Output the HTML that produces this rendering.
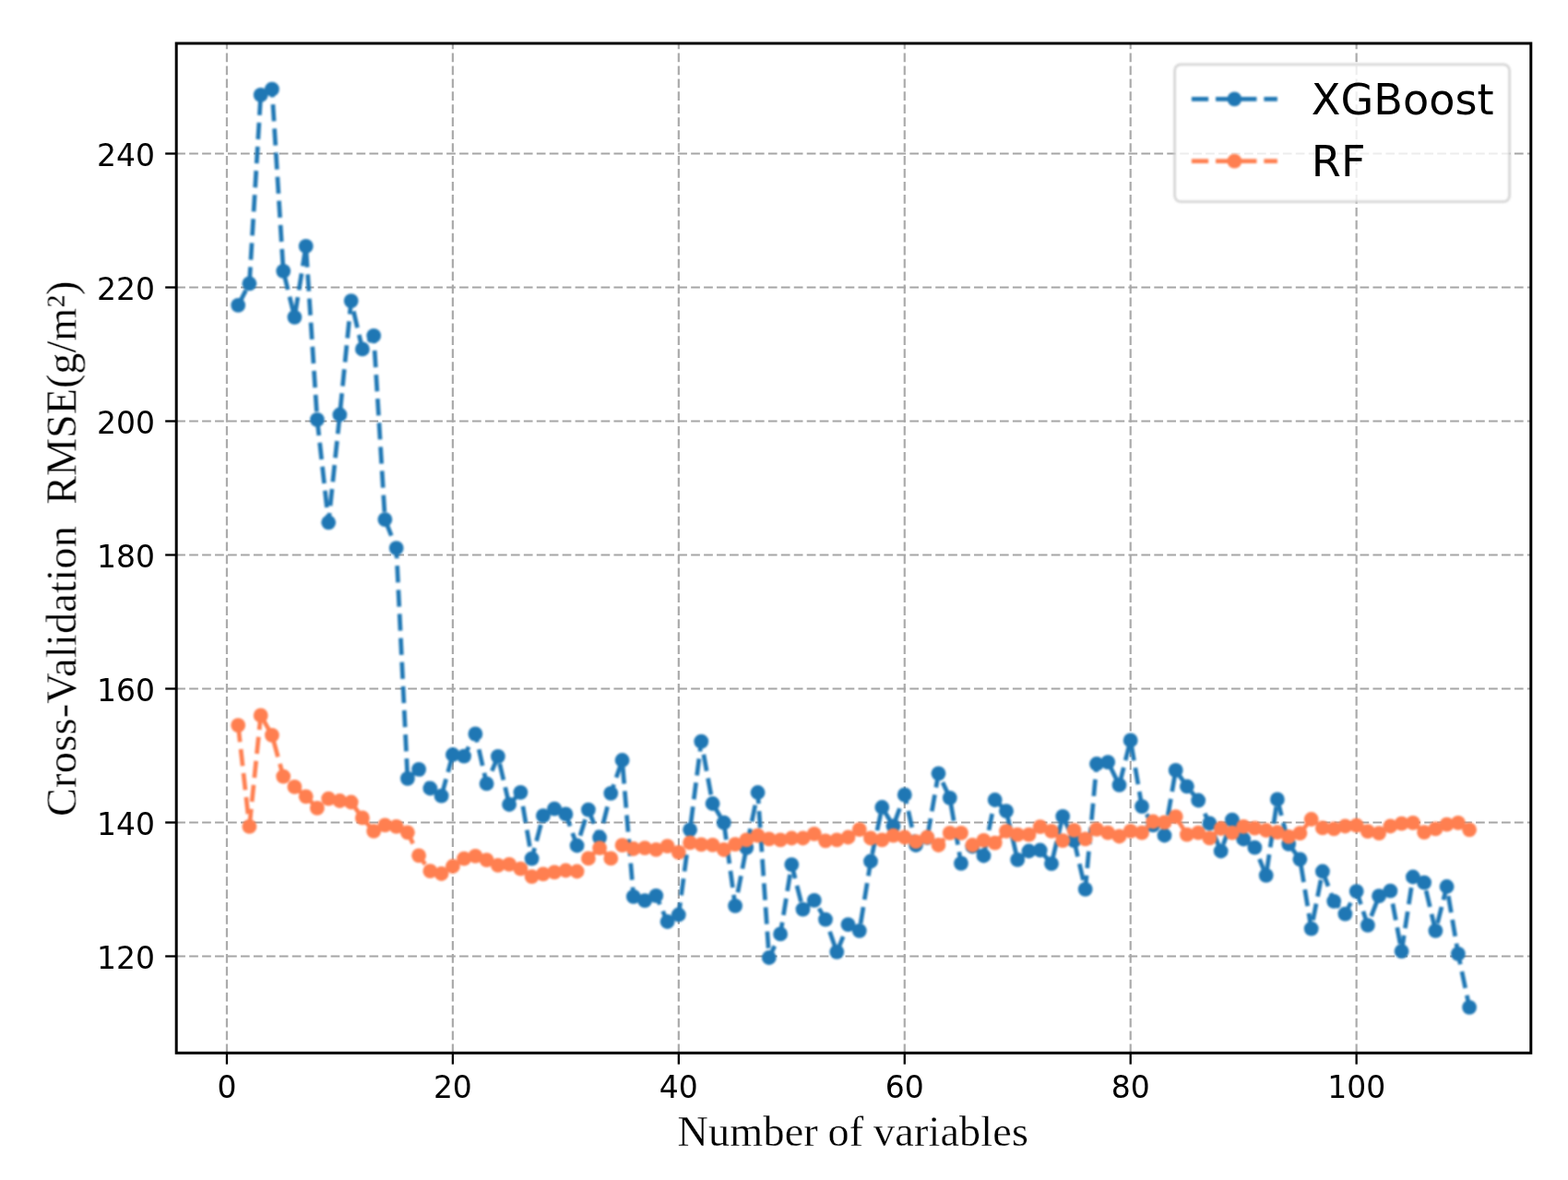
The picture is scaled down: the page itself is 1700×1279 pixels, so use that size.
<!DOCTYPE html>
<html lang="en">
<head>
<meta charset="utf-8">
<title>Cross-Validation RMSE vs Number of variables</title>
<style>
html,body{margin:0;padding:0;background:#fff;}
body{width:1700px;height:1279px;overflow:hidden;}
svg{display:block;}
.tick{font-family:"DejaVu Sans","Liberation Sans",sans-serif;font-size:33px;fill:#000;}
.leg{font-family:"DejaVu Sans","Liberation Sans",sans-serif;font-size:46.2px;fill:#000;}
.lab{font-family:"Liberation Serif","Times New Roman",serif;font-size:46.2px;fill:#000;stroke:#fff;stroke-width:0.3px;}
</style>
</head>
<body>
<svg width="1700" height="1279" viewBox="0 0 1700 1279">
<defs><filter id="fg" x="0" y="0" width="1700" height="1279" filterUnits="userSpaceOnUse" color-interpolation-filters="sRGB"><feGaussianBlur stdDeviation="0.6"/></filter><filter id="fd" x="0" y="0" width="1700" height="1279" filterUnits="userSpaceOnUse" color-interpolation-filters="sRGB"><feGaussianBlur stdDeviation="1"/></filter><filter id="fs" x="0" y="0" width="1700" height="1279" filterUnits="userSpaceOnUse" color-interpolation-filters="sRGB"><feGaussianBlur stdDeviation="0.6"/></filter><filter id="ft" x="0" y="0" width="1700" height="1279" filterUnits="userSpaceOnUse" color-interpolation-filters="sRGB"><feGaussianBlur stdDeviation="0.5"/></filter></defs>
<rect x="0" y="0" width="1700" height="1279" fill="#ffffff"/>
<g filter="url(#fg)" stroke="#a6a6a6" stroke-width="2.200" stroke-dasharray="9.738 4.211" fill="none">
<line stroke="#ababab" x1="245.95" y1="1141.30" x2="245.95" y2="47.00"/>
<line stroke="#ababab" x1="490.89" y1="1141.30" x2="490.89" y2="47.00"/>
<line stroke="#ababab" x1="735.83" y1="1141.30" x2="735.83" y2="47.00"/>
<line stroke="#ababab" x1="980.77" y1="1141.30" x2="980.77" y2="47.00"/>
<line stroke="#ababab" x1="1225.71" y1="1141.30" x2="1225.71" y2="47.00"/>
<line stroke="#ababab" x1="1470.65" y1="1141.30" x2="1470.65" y2="47.00"/>
<line x1="191.20" y1="1036.50" x2="1659.80" y2="1036.50"/>
<line x1="191.20" y1="891.50" x2="1659.80" y2="891.50"/>
<line x1="191.20" y1="746.50" x2="1659.80" y2="746.50"/>
<line x1="191.20" y1="601.50" x2="1659.80" y2="601.50"/>
<line x1="191.20" y1="456.50" x2="1659.80" y2="456.50"/>
<line x1="191.20" y1="311.50" x2="1659.80" y2="311.50"/>
<line x1="191.20" y1="166.50" x2="1659.80" y2="166.50"/>
</g>
<g filter="url(#fd)">
<g fill="none" stroke="#1f77b4" stroke-width="4.700" stroke-dasharray="18.26 7.90" stroke-linejoin="round">
<polyline stroke-dashoffset="0.00" points="258.2,330.8 270.4,307.3"/>
<polyline stroke-dashoffset="0.39" points="270.4,307.3 282.7,102.9 294.9,96.7"/>
<polyline stroke-dashoffset="9.60" points="294.9,96.7 307.2,293.8"/>
<polyline stroke-dashoffset="23.65" points="307.2,293.8 319.4,343.8"/>
<polyline stroke-dashoffset="22.47" points="319.4,343.8 331.7,266.9"/>
<polyline stroke-dashoffset="21.71" points="331.7,266.9 343.9,454.8"/>
<polyline stroke-dashoffset="0.98" points="343.9,454.8 356.2,566.3"/>
<polyline stroke-dashoffset="7.96" points="356.2,566.3 368.4,449.5"/>
<polyline stroke-dashoffset="21.16" points="368.4,449.5 380.7,326.1"/>
<polyline stroke-dashoffset="14.57" points="380.7,326.1 392.9,378.4 405.2,363.8"/>
<polyline stroke-dashoffset="10.01" points="405.2,363.8 417.4,563.1"/>
<polyline stroke-dashoffset="25.68" points="417.4,563.1 429.7,594.1"/>
<polyline stroke-dashoffset="7.09" points="429.7,594.1 441.9,843.8 454.1,833.9"/>
<polyline stroke-dashoffset="10.34" points="454.1,833.9 466.4,854.5 478.6,862.7"/>
<polyline stroke-dashoffset="25.45" points="478.6,862.7 490.9,818.0 503.1,819.6"/>
<polyline stroke-dashoffset="6.97" points="503.1,819.6 515.4,795.4"/>
<polyline stroke-dashoffset="8.88" points="515.4,795.4 527.6,849.4"/>
<polyline stroke-dashoffset="11.17" points="527.6,849.4 539.9,819.8"/>
<polyline stroke-dashoffset="18.06" points="539.9,819.8 552.1,872.0 564.4,858.8"/>
<polyline stroke-dashoffset="10.93" points="564.4,858.8 576.6,930.6"/>
<polyline stroke-dashoffset="6.49" points="576.6,930.6 588.9,884.2 601.1,876.7 613.4,882.4"/>
<polyline stroke-dashoffset="4.36" points="613.4,882.4 625.6,916.5"/>
<polyline stroke-dashoffset="14.87" points="625.6,916.5 637.9,877.6"/>
<polyline stroke-dashoffset="2.14" points="637.9,877.6 650.1,907.8"/>
<polyline stroke-dashoffset="9.97" points="650.1,907.8 662.3,859.8"/>
<polyline stroke-dashoffset="8.05" points="662.3,859.8 674.6,824.0"/>
<polyline stroke-dashoffset="18.83" points="674.6,824.0 686.8,971.8 699.1,976.2 711.3,970.8"/>
<polyline stroke-dashoffset="7.82" points="711.3,970.8 723.6,999.0 735.8,991.5"/>
<polyline stroke-dashoffset="4.88" points="735.8,991.5 748.1,899.3"/>
<polyline stroke-dashoffset="19.17" points="748.1,899.3 760.3,803.7"/>
<polyline stroke-dashoffset="11.87" points="760.3,803.7 772.6,871.0 784.8,891.7"/>
<polyline stroke-dashoffset="25.77" points="784.8,891.7 797.1,981.8"/>
<polyline stroke-dashoffset="11.38" points="797.1,981.8 809.3,918.8"/>
<polyline stroke-dashoffset="23.46" points="809.3,918.8 821.6,859.0"/>
<polyline stroke-dashoffset="6.05" points="821.6,859.0 833.8,1038.0"/>
<polyline stroke-dashoffset="4.25" points="833.8,1038.0 846.1,1012.4"/>
<polyline stroke-dashoffset="5.30" points="846.1,1012.4 858.3,937.1"/>
<polyline stroke-dashoffset="2.71" points="858.3,937.1 870.5,985.6 882.8,975.9 895.0,996.6"/>
<polyline stroke-dashoffset="12.25" points="895.0,996.6 907.3,1031.8"/>
<polyline stroke-dashoffset="0.24" points="907.3,1031.8 919.5,1002.2 931.8,1008.8"/>
<polyline stroke-dashoffset="18.29" points="931.8,1008.8 944.0,933.5"/>
<polyline stroke-dashoffset="18.22" points="944.0,933.5 956.3,875.0 968.5,895.3"/>
<polyline stroke-dashoffset="24.12" points="968.5,895.3 980.8,861.4"/>
<polyline stroke-dashoffset="8.06" points="980.8,861.4 993.0,916.0 1005.3,908.0"/>
<polyline stroke-dashoffset="23.18" points="1005.3,908.0 1017.5,838.3 1029.8,864.8"/>
<polyline stroke-dashoffset="19.11" points="1029.8,864.8 1042.0,935.8"/>
<polyline stroke-dashoffset="10.30" points="1042.0,935.8 1054.3,917.5 1066.5,927.5"/>
<polyline stroke-dashoffset="24.12" points="1066.5,927.5 1078.7,867.0 1091.0,879.2"/>
<polyline stroke-dashoffset="23.72" points="1091.0,879.2 1103.2,931.9 1115.5,922.5 1127.7,921.5 1140.0,936.2"/>
<polyline stroke-dashoffset="19.58" points="1140.0,936.2 1152.2,884.8 1164.5,911.2"/>
<polyline stroke-dashoffset="0.44" points="1164.5,911.2 1176.7,963.9"/>
<polyline stroke-dashoffset="3.18" points="1176.7,963.9 1189.0,828.0 1201.2,826.1 1213.5,850.9"/>
<polyline stroke-dashoffset="24.74" points="1213.5,850.9 1225.7,802.4"/>
<polyline stroke-dashoffset="22.07" points="1225.7,802.4 1238.0,874.1 1250.2,894.3 1262.5,905.5"/>
<polyline stroke-dashoffset="4.11" points="1262.5,905.5 1274.7,834.9 1286.9,852.3 1299.2,867.5"/>
<polyline stroke-dashoffset="10.39" points="1299.2,867.5 1311.4,892.4 1323.7,922.5 1335.9,888.6 1348.2,909.5 1360.4,918.7"/>
<polyline stroke-dashoffset="12.71" points="1360.4,918.7 1372.7,948.8"/>
<polyline stroke-dashoffset="21.57" points="1372.7,948.8 1384.9,866.4"/>
<polyline stroke-dashoffset="0.13" points="1384.9,866.4 1397.2,914.8 1409.4,931.3"/>
<polyline stroke-dashoffset="19.18" points="1409.4,931.3 1421.7,1006.6"/>
<polyline stroke-dashoffset="16.77" points="1421.7,1006.6 1433.9,944.5"/>
<polyline stroke-dashoffset="0.93" points="1433.9,944.5 1446.2,976.8 1458.4,990.6"/>
<polyline stroke-dashoffset="4.66" points="1458.4,990.6 1470.7,966.1"/>
<polyline stroke-dashoffset="3.23" points="1470.7,966.1 1482.9,1002.8 1495.1,971.2 1507.4,965.7"/>
<polyline stroke-dashoffset="12.14" points="1507.4,965.7 1519.6,1031.1"/>
<polyline stroke-dashoffset="0.82" points="1519.6,1031.1 1531.9,950.5 1544.1,956.7"/>
<polyline stroke-dashoffset="17.34" points="1544.1,956.7 1556.4,1008.8"/>
<polyline stroke-dashoffset="17.81" points="1556.4,1008.8 1568.6,961.0"/>
<polyline stroke-dashoffset="15.91" points="1568.6,961.0 1580.9,1033.9"/>
<polyline stroke-dashoffset="6.56" points="1580.9,1033.9 1593.1,1091.8"/>
</g>
<g fill="#1f77b4">
<circle cx="258.2" cy="330.8" r="7.9"/>
<circle cx="270.4" cy="307.3" r="7.9"/>
<circle cx="282.7" cy="102.9" r="7.9"/>
<circle cx="294.9" cy="96.7" r="7.9"/>
<circle cx="307.2" cy="293.8" r="7.9"/>
<circle cx="319.4" cy="343.8" r="7.9"/>
<circle cx="331.7" cy="266.9" r="7.9"/>
<circle cx="343.9" cy="454.8" r="7.9"/>
<circle cx="356.2" cy="566.3" r="7.9"/>
<circle cx="368.4" cy="449.5" r="7.9"/>
<circle cx="380.7" cy="326.1" r="7.9"/>
<circle cx="392.9" cy="378.4" r="7.9"/>
<circle cx="405.2" cy="363.8" r="7.9"/>
<circle cx="417.4" cy="563.1" r="7.9"/>
<circle cx="429.7" cy="594.1" r="7.9"/>
<circle cx="441.9" cy="843.8" r="7.9"/>
<circle cx="454.1" cy="833.9" r="7.9"/>
<circle cx="466.4" cy="854.5" r="7.9"/>
<circle cx="478.6" cy="862.7" r="7.9"/>
<circle cx="490.9" cy="818.0" r="7.9"/>
<circle cx="503.1" cy="819.6" r="7.9"/>
<circle cx="515.4" cy="795.4" r="7.9"/>
<circle cx="527.6" cy="849.4" r="7.9"/>
<circle cx="539.9" cy="819.8" r="7.9"/>
<circle cx="552.1" cy="872.0" r="7.9"/>
<circle cx="564.4" cy="858.8" r="7.9"/>
<circle cx="576.6" cy="930.6" r="7.9"/>
<circle cx="588.9" cy="884.2" r="7.9"/>
<circle cx="601.1" cy="876.7" r="7.9"/>
<circle cx="613.4" cy="882.4" r="7.9"/>
<circle cx="625.6" cy="916.5" r="7.9"/>
<circle cx="637.9" cy="877.6" r="7.9"/>
<circle cx="650.1" cy="907.8" r="7.9"/>
<circle cx="662.3" cy="859.8" r="7.9"/>
<circle cx="674.6" cy="824.0" r="7.9"/>
<circle cx="686.8" cy="971.8" r="7.9"/>
<circle cx="699.1" cy="976.2" r="7.9"/>
<circle cx="711.3" cy="970.8" r="7.9"/>
<circle cx="723.6" cy="999.0" r="7.9"/>
<circle cx="735.8" cy="991.5" r="7.9"/>
<circle cx="748.1" cy="899.3" r="7.9"/>
<circle cx="760.3" cy="803.7" r="7.9"/>
<circle cx="772.6" cy="871.0" r="7.9"/>
<circle cx="784.8" cy="891.7" r="7.9"/>
<circle cx="797.1" cy="981.8" r="7.9"/>
<circle cx="809.3" cy="918.8" r="7.9"/>
<circle cx="821.6" cy="859.0" r="7.9"/>
<circle cx="833.8" cy="1038.0" r="7.9"/>
<circle cx="846.1" cy="1012.4" r="7.9"/>
<circle cx="858.3" cy="937.1" r="7.9"/>
<circle cx="870.5" cy="985.6" r="7.9"/>
<circle cx="882.8" cy="975.9" r="7.9"/>
<circle cx="895.0" cy="996.6" r="7.9"/>
<circle cx="907.3" cy="1031.8" r="7.9"/>
<circle cx="919.5" cy="1002.2" r="7.9"/>
<circle cx="931.8" cy="1008.8" r="7.9"/>
<circle cx="944.0" cy="933.5" r="7.9"/>
<circle cx="956.3" cy="875.0" r="7.9"/>
<circle cx="968.5" cy="895.3" r="7.9"/>
<circle cx="980.8" cy="861.4" r="7.9"/>
<circle cx="993.0" cy="916.0" r="7.9"/>
<circle cx="1005.3" cy="908.0" r="7.9"/>
<circle cx="1017.5" cy="838.3" r="7.9"/>
<circle cx="1029.8" cy="864.8" r="7.9"/>
<circle cx="1042.0" cy="935.8" r="7.9"/>
<circle cx="1054.3" cy="917.5" r="7.9"/>
<circle cx="1066.5" cy="927.5" r="7.9"/>
<circle cx="1078.7" cy="867.0" r="7.9"/>
<circle cx="1091.0" cy="879.2" r="7.9"/>
<circle cx="1103.2" cy="931.9" r="7.9"/>
<circle cx="1115.5" cy="922.5" r="7.9"/>
<circle cx="1127.7" cy="921.5" r="7.9"/>
<circle cx="1140.0" cy="936.2" r="7.9"/>
<circle cx="1152.2" cy="884.8" r="7.9"/>
<circle cx="1164.5" cy="911.2" r="7.9"/>
<circle cx="1176.7" cy="963.9" r="7.9"/>
<circle cx="1189.0" cy="828.0" r="7.9"/>
<circle cx="1201.2" cy="826.1" r="7.9"/>
<circle cx="1213.5" cy="850.9" r="7.9"/>
<circle cx="1225.7" cy="802.4" r="7.9"/>
<circle cx="1238.0" cy="874.1" r="7.9"/>
<circle cx="1250.2" cy="894.3" r="7.9"/>
<circle cx="1262.5" cy="905.5" r="7.9"/>
<circle cx="1274.7" cy="834.9" r="7.9"/>
<circle cx="1286.9" cy="852.3" r="7.9"/>
<circle cx="1299.2" cy="867.5" r="7.9"/>
<circle cx="1311.4" cy="892.4" r="7.9"/>
<circle cx="1323.7" cy="922.5" r="7.9"/>
<circle cx="1335.9" cy="888.6" r="7.9"/>
<circle cx="1348.2" cy="909.5" r="7.9"/>
<circle cx="1360.4" cy="918.7" r="7.9"/>
<circle cx="1372.7" cy="948.8" r="7.9"/>
<circle cx="1384.9" cy="866.4" r="7.9"/>
<circle cx="1397.2" cy="914.8" r="7.9"/>
<circle cx="1409.4" cy="931.3" r="7.9"/>
<circle cx="1421.7" cy="1006.6" r="7.9"/>
<circle cx="1433.9" cy="944.5" r="7.9"/>
<circle cx="1446.2" cy="976.8" r="7.9"/>
<circle cx="1458.4" cy="990.6" r="7.9"/>
<circle cx="1470.7" cy="966.1" r="7.9"/>
<circle cx="1482.9" cy="1002.8" r="7.9"/>
<circle cx="1495.1" cy="971.2" r="7.9"/>
<circle cx="1507.4" cy="965.7" r="7.9"/>
<circle cx="1519.6" cy="1031.1" r="7.9"/>
<circle cx="1531.9" cy="950.5" r="7.9"/>
<circle cx="1544.1" cy="956.7" r="7.9"/>
<circle cx="1556.4" cy="1008.8" r="7.9"/>
<circle cx="1568.6" cy="961.0" r="7.9"/>
<circle cx="1580.9" cy="1033.9" r="7.9"/>
<circle cx="1593.1" cy="1091.8" r="7.9"/>
</g>
<g fill="none" stroke="#ff7f50" stroke-width="4.700" stroke-dasharray="18.26 7.90" stroke-linejoin="round">
<polyline stroke-dashoffset="0.00" points="258.2,786.1 270.4,895.9"/>
<polyline stroke-dashoffset="25.29" points="270.4,895.9 282.7,775.4"/>
<polyline stroke-dashoffset="0.09" points="282.7,775.4 294.9,796.8"/>
<polyline stroke-dashoffset="20.06" points="294.9,796.8 307.2,841.6 319.4,852.9 331.7,863.3 343.9,875.9 356.2,865.7 368.4,868.0 380.7,869.5 392.9,886.4 405.2,900.9 417.4,894.4 429.7,895.9 441.9,902.3"/>
<polyline stroke-dashoffset="4.84" points="441.9,902.3 454.1,927.3 466.4,944.2 478.6,947.0 490.9,939.0 503.1,930.7 515.4,927.8 527.6,932.2 539.9,937.9 552.1,936.9 564.4,941.6 576.6,950.1 588.9,947.3 601.1,945.4 613.4,943.5 625.6,944.5"/>
<polyline stroke-dashoffset="12.94" points="625.6,944.5 637.9,930.4 650.1,919.1 662.3,930.4"/>
<polyline stroke-dashoffset="12.83" points="662.3,930.4 674.6,916.2 686.8,920.0 699.1,919.1 711.3,920.9 723.6,917.2 735.8,923.8 748.1,913.4 760.3,915.3 772.6,915.8 784.8,921.0 797.1,915.2 809.3,910.4 821.6,905.6 833.8,909.4 846.1,910.4 858.3,908.5 870.5,908.5 882.8,903.8 895.0,911.3 907.3,910.4 919.5,907.5 931.8,899.1 944.0,908.5 956.3,910.4 968.5,905.6 980.8,907.5 993.0,912.2 1005.3,907.5 1017.5,916.0 1029.8,902.8 1042.0,902.8 1054.3,916.0 1066.5,910.8 1078.7,913.6 1091.0,900.8 1103.2,904.6 1115.5,904.6 1127.7,896.1 1140.0,900.8 1152.2,911.2 1164.5,899.9 1176.7,909.3 1189.0,898.9 1201.2,902.7 1213.5,906.5 1225.7,900.8 1238.0,902.7 1250.2,890.5 1262.5,891.4 1274.7,885.2 1286.9,904.6 1299.2,902.7 1311.4,908.4 1323.7,898.0 1335.9,902.7 1348.2,895.8 1360.4,897.7 1372.7,900.0 1384.9,902.1 1397.2,906.8 1409.4,903.1 1421.7,888.0 1433.9,897.4 1446.2,898.4 1458.4,895.5 1470.7,894.6 1482.9,901.2 1495.1,903.1 1507.4,895.5 1519.6,892.7 1531.9,891.8 1544.1,902.1 1556.4,898.4 1568.6,893.6 1580.9,891.8 1593.1,899.3"/>
</g>
<g fill="#ff7f50">
<circle cx="258.2" cy="786.1" r="7.9"/>
<circle cx="270.4" cy="895.9" r="7.9"/>
<circle cx="282.7" cy="775.4" r="7.9"/>
<circle cx="294.9" cy="796.8" r="7.9"/>
<circle cx="307.2" cy="841.6" r="7.9"/>
<circle cx="319.4" cy="852.9" r="7.9"/>
<circle cx="331.7" cy="863.3" r="7.9"/>
<circle cx="343.9" cy="875.9" r="7.9"/>
<circle cx="356.2" cy="865.7" r="7.9"/>
<circle cx="368.4" cy="868.0" r="7.9"/>
<circle cx="380.7" cy="869.5" r="7.9"/>
<circle cx="392.9" cy="886.4" r="7.9"/>
<circle cx="405.2" cy="900.9" r="7.9"/>
<circle cx="417.4" cy="894.4" r="7.9"/>
<circle cx="429.7" cy="895.9" r="7.9"/>
<circle cx="441.9" cy="902.3" r="7.9"/>
<circle cx="454.1" cy="927.3" r="7.9"/>
<circle cx="466.4" cy="944.2" r="7.9"/>
<circle cx="478.6" cy="947.0" r="7.9"/>
<circle cx="490.9" cy="939.0" r="7.9"/>
<circle cx="503.1" cy="930.7" r="7.9"/>
<circle cx="515.4" cy="927.8" r="7.9"/>
<circle cx="527.6" cy="932.2" r="7.9"/>
<circle cx="539.9" cy="937.9" r="7.9"/>
<circle cx="552.1" cy="936.9" r="7.9"/>
<circle cx="564.4" cy="941.6" r="7.9"/>
<circle cx="576.6" cy="950.1" r="7.9"/>
<circle cx="588.9" cy="947.3" r="7.9"/>
<circle cx="601.1" cy="945.4" r="7.9"/>
<circle cx="613.4" cy="943.5" r="7.9"/>
<circle cx="625.6" cy="944.5" r="7.9"/>
<circle cx="637.9" cy="930.4" r="7.9"/>
<circle cx="650.1" cy="919.1" r="7.9"/>
<circle cx="662.3" cy="930.4" r="7.9"/>
<circle cx="674.6" cy="916.2" r="7.9"/>
<circle cx="686.8" cy="920.0" r="7.9"/>
<circle cx="699.1" cy="919.1" r="7.9"/>
<circle cx="711.3" cy="920.9" r="7.9"/>
<circle cx="723.6" cy="917.2" r="7.9"/>
<circle cx="735.8" cy="923.8" r="7.9"/>
<circle cx="748.1" cy="913.4" r="7.9"/>
<circle cx="760.3" cy="915.3" r="7.9"/>
<circle cx="772.6" cy="915.8" r="7.9"/>
<circle cx="784.8" cy="921.0" r="7.9"/>
<circle cx="797.1" cy="915.2" r="7.9"/>
<circle cx="809.3" cy="910.4" r="7.9"/>
<circle cx="821.6" cy="905.6" r="7.9"/>
<circle cx="833.8" cy="909.4" r="7.9"/>
<circle cx="846.1" cy="910.4" r="7.9"/>
<circle cx="858.3" cy="908.5" r="7.9"/>
<circle cx="870.5" cy="908.5" r="7.9"/>
<circle cx="882.8" cy="903.8" r="7.9"/>
<circle cx="895.0" cy="911.3" r="7.9"/>
<circle cx="907.3" cy="910.4" r="7.9"/>
<circle cx="919.5" cy="907.5" r="7.9"/>
<circle cx="931.8" cy="899.1" r="7.9"/>
<circle cx="944.0" cy="908.5" r="7.9"/>
<circle cx="956.3" cy="910.4" r="7.9"/>
<circle cx="968.5" cy="905.6" r="7.9"/>
<circle cx="980.8" cy="907.5" r="7.9"/>
<circle cx="993.0" cy="912.2" r="7.9"/>
<circle cx="1005.3" cy="907.5" r="7.9"/>
<circle cx="1017.5" cy="916.0" r="7.9"/>
<circle cx="1029.8" cy="902.8" r="7.9"/>
<circle cx="1042.0" cy="902.8" r="7.9"/>
<circle cx="1054.3" cy="916.0" r="7.9"/>
<circle cx="1066.5" cy="910.8" r="7.9"/>
<circle cx="1078.7" cy="913.6" r="7.9"/>
<circle cx="1091.0" cy="900.8" r="7.9"/>
<circle cx="1103.2" cy="904.6" r="7.9"/>
<circle cx="1115.5" cy="904.6" r="7.9"/>
<circle cx="1127.7" cy="896.1" r="7.9"/>
<circle cx="1140.0" cy="900.8" r="7.9"/>
<circle cx="1152.2" cy="911.2" r="7.9"/>
<circle cx="1164.5" cy="899.9" r="7.9"/>
<circle cx="1176.7" cy="909.3" r="7.9"/>
<circle cx="1189.0" cy="898.9" r="7.9"/>
<circle cx="1201.2" cy="902.7" r="7.9"/>
<circle cx="1213.5" cy="906.5" r="7.9"/>
<circle cx="1225.7" cy="900.8" r="7.9"/>
<circle cx="1238.0" cy="902.7" r="7.9"/>
<circle cx="1250.2" cy="890.5" r="7.9"/>
<circle cx="1262.5" cy="891.4" r="7.9"/>
<circle cx="1274.7" cy="885.2" r="7.9"/>
<circle cx="1286.9" cy="904.6" r="7.9"/>
<circle cx="1299.2" cy="902.7" r="7.9"/>
<circle cx="1311.4" cy="908.4" r="7.9"/>
<circle cx="1323.7" cy="898.0" r="7.9"/>
<circle cx="1335.9" cy="902.7" r="7.9"/>
<circle cx="1348.2" cy="895.8" r="7.9"/>
<circle cx="1360.4" cy="897.7" r="7.9"/>
<circle cx="1372.7" cy="900.0" r="7.9"/>
<circle cx="1384.9" cy="902.1" r="7.9"/>
<circle cx="1397.2" cy="906.8" r="7.9"/>
<circle cx="1409.4" cy="903.1" r="7.9"/>
<circle cx="1421.7" cy="888.0" r="7.9"/>
<circle cx="1433.9" cy="897.4" r="7.9"/>
<circle cx="1446.2" cy="898.4" r="7.9"/>
<circle cx="1458.4" cy="895.5" r="7.9"/>
<circle cx="1470.7" cy="894.6" r="7.9"/>
<circle cx="1482.9" cy="901.2" r="7.9"/>
<circle cx="1495.1" cy="903.1" r="7.9"/>
<circle cx="1507.4" cy="895.5" r="7.9"/>
<circle cx="1519.6" cy="892.7" r="7.9"/>
<circle cx="1531.9" cy="891.8" r="7.9"/>
<circle cx="1544.1" cy="902.1" r="7.9"/>
<circle cx="1556.4" cy="898.4" r="7.9"/>
<circle cx="1568.6" cy="893.6" r="7.9"/>
<circle cx="1580.9" cy="891.8" r="7.9"/>
<circle cx="1593.1" cy="899.3" r="7.9"/>
</g>
</g>
<g filter="url(#fs)">
<rect x="191.20" y="47.00" width="1468.60" height="1094.30" fill="none" stroke="#000" stroke-width="3"/>
<g stroke="#000" stroke-width="2.3">
<line x1="245.95" y1="1141.30" x2="245.95" y2="1153.60"/>
<line x1="490.89" y1="1141.30" x2="490.89" y2="1153.60"/>
<line x1="735.83" y1="1141.30" x2="735.83" y2="1153.60"/>
<line x1="980.77" y1="1141.30" x2="980.77" y2="1153.60"/>
<line x1="1225.71" y1="1141.30" x2="1225.71" y2="1153.60"/>
<line x1="1470.65" y1="1141.30" x2="1470.65" y2="1153.60"/>
<line x1="191.20" y1="1036.50" x2="179.20" y2="1036.50"/>
<line x1="191.20" y1="891.50" x2="179.20" y2="891.50"/>
<line x1="191.20" y1="746.50" x2="179.20" y2="746.50"/>
<line x1="191.20" y1="601.50" x2="179.20" y2="601.50"/>
<line x1="191.20" y1="456.50" x2="179.20" y2="456.50"/>
<line x1="191.20" y1="311.50" x2="179.20" y2="311.50"/>
<line x1="191.20" y1="166.50" x2="179.20" y2="166.50"/>
</g>
</g>
<g filter="url(#ft)">
<text class="tick" x="245.95" y="1190.20" text-anchor="middle">0</text>
<text class="tick" x="490.89" y="1190.20" text-anchor="middle">20</text>
<text class="tick" x="735.83" y="1190.20" text-anchor="middle">40</text>
<text class="tick" x="980.77" y="1190.20" text-anchor="middle">60</text>
<text class="tick" x="1225.71" y="1190.20" text-anchor="middle">80</text>
<text class="tick" x="1470.65" y="1190.20" text-anchor="middle">100</text>
<text class="tick" x="168.10" y="1049.60" text-anchor="end">120</text>
<text class="tick" x="168.10" y="904.60" text-anchor="end">140</text>
<text class="tick" x="168.10" y="759.60" text-anchor="end">160</text>
<text class="tick" x="168.10" y="614.60" text-anchor="end">180</text>
<text class="tick" x="168.10" y="469.60" text-anchor="end">200</text>
<text class="tick" x="168.10" y="324.60" text-anchor="end">220</text>
<text class="tick" x="168.10" y="179.60" text-anchor="end">240</text>
<text class="lab" x="734.60" y="1242.10" text-anchor="start" letter-spacing="0.15" word-spacing="-1">Number of variables</text>
<text class="lab" transform="translate(82.40,884.90) rotate(-90)" text-anchor="start" xml:space="preserve" style="white-space:pre"><tspan letter-spacing="0.29">Cross-Validation</tspan>  RMSE(g/m²)</text>
</g>
<g filter="url(#fd)">
<rect x="1273.60" y="69.80" width="363.00" height="148.80" rx="6.6" ry="6.6" fill="#ffffff" fill-opacity="0.8" stroke="#cccccc" stroke-opacity="0.8" stroke-width="2.8"/>
<line x1="1291.90" y1="107.30" x2="1384.90" y2="107.30" stroke="#1f77b4" stroke-width="4.700" stroke-dasharray="18.26 7.90"/>
<circle cx="1338.40" cy="107.30" r="7.9" fill="#1f77b4"/>
<line x1="1291.90" y1="174.60" x2="1384.90" y2="174.60" stroke="#ff7f50" stroke-width="4.700" stroke-dasharray="18.26 7.90"/>
<circle cx="1338.40" cy="174.60" r="7.9" fill="#ff7f50"/>
</g>
<g filter="url(#ft)">
<text class="leg" x="1421.80" y="124.10">XGBoost</text>
<text class="leg" x="1421.80" y="191.40">RF</text>
</g>
</svg>
</body>
</html>
